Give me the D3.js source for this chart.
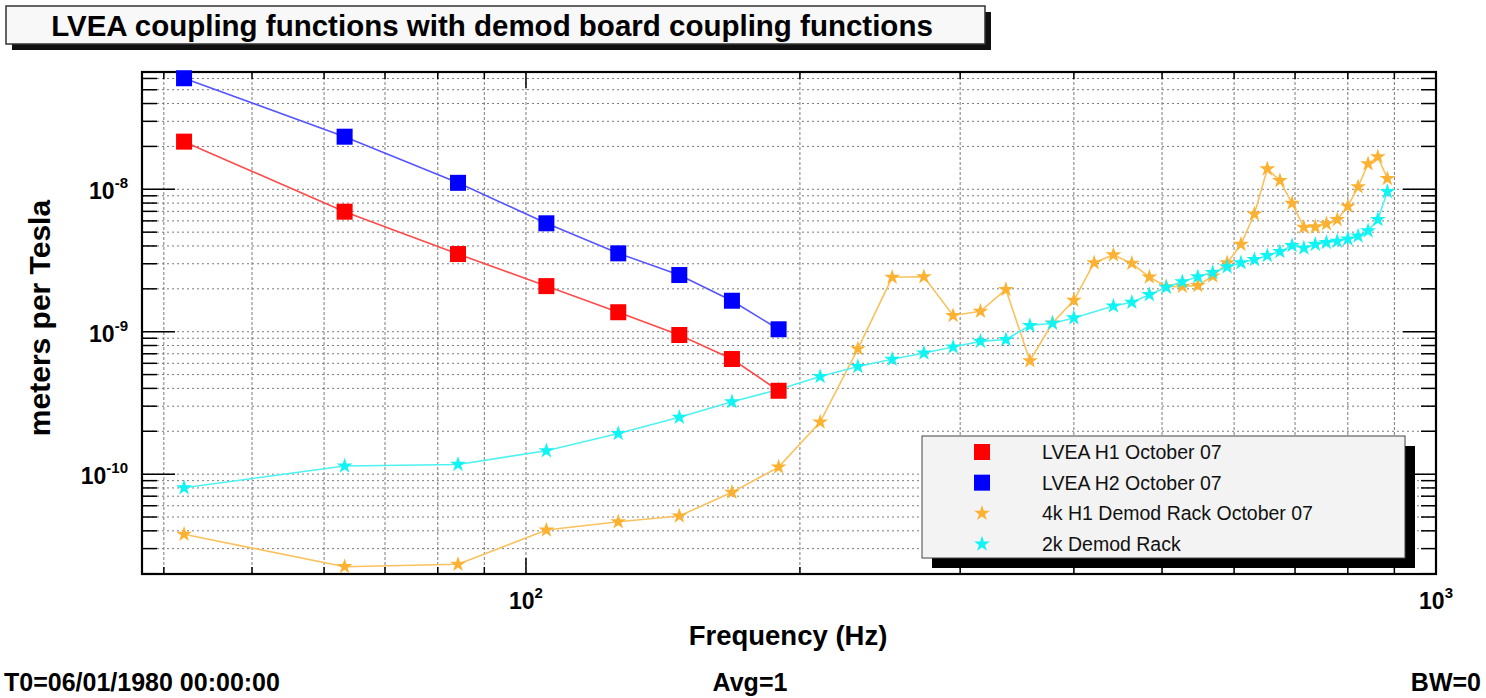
<!DOCTYPE html>
<html>
<head>
<meta charset="utf-8">
<script src="https://cdn.jsdelivr.net/npm/d3@7"></script>
<style>
  html, body { margin: 0; padding: 0; background: #ffffff; }
  svg { display: block; font-family: "Liberation Sans", Arial, Helvetica, sans-serif; }
</style>
</head>
<body>
<svg id="chart" width="1486" height="698"></svg>
<script>
// ---- data ---------------------------------------------------------------
// LVEA coupling measurements (Hz, meters per Tesla)
const lveaFreqs = [42.1, 63.2, 84.2, 105.3, 126.3, 147.4, 168.4, 189.5];
const lveaH1 = [2.16e-8, 6.96e-9, 3.51e-9, 2.09e-9, 1.37e-9, 9.48e-10, 6.43e-10, 3.85e-10];
const lveaH2 = [6.02e-8, 2.34e-8, 1.11e-8, 5.77e-9, 3.55e-9, 2.50e-9, 1.65e-9, 1.04e-9];

// 4k H1 demod rack
const rack4kFreqs = [42.1, 63.2, 84.2, 105.3, 126.3, 147.4, 168.4, 189.5, 210.5, 231.6,
  252.6, 273.7, 294.7, 315.8, 336.8, 357.9, 378.9, 400.0, 421.1, 442.1,
  463.2, 484.2, 505.3, 526.3, 547.4, 568.4, 589.5, 610.5, 631.6, 652.6,
  673.7, 694.7, 715.8, 736.8, 757.9, 778.9, 800.0, 821.1, 842.1, 863.2, 884.2];
const rack4k = [3.78e-11, 2.24e-11, 2.33e-11, 4.05e-11, 4.63e-11, 5.08e-11, 7.45e-11, 1.12e-10, 2.32e-10, 7.58e-10,
  2.41e-9, 2.43e-9, 1.30e-9, 1.39e-9, 1.98e-9, 6.25e-10, 1.15e-9, 1.66e-9, 3.05e-9, 3.46e-9,
  3.02e-9, 2.42e-9, 2.07e-9, 2.08e-9, 2.11e-9, 2.46e-9, 3.04e-9, 4.10e-9, 6.71e-9, 1.39e-8,
  1.15e-8, 7.97e-9, 5.41e-9, 5.44e-9, 5.73e-9, 6.12e-9, 7.60e-9, 1.04e-8, 1.51e-8, 1.69e-8, 1.19e-8];

// 2k demod rack
const rack2kFreqs = [42.1, 63.2, 84.2, 105.3, 126.3, 147.4, 168.4, 189.5, 210.5, 231.6,
  252.6, 273.7, 294.7, 315.8, 336.8, 357.9, 378.9, 400.0, 442.1,
  463.2, 484.2, 505.3, 526.3, 547.4, 568.4, 589.5, 610.5, 631.6, 652.6,
  673.7, 694.7, 715.8, 736.8, 757.9, 778.9, 800.0, 821.1, 842.1, 863.2, 884.2];
const rack2k = [8.03e-11, 1.14e-10, 1.17e-10, 1.46e-10, 1.93e-10, 2.51e-10, 3.22e-10, 3.93e-10, 4.85e-10, 5.70e-10,
  6.41e-10, 7.09e-10, 7.81e-10, 8.55e-10, 8.81e-10, 1.105e-9, 1.146e-9, 1.25e-9, 1.515e-9,
  1.61e-9, 1.82e-9, 2.05e-9, 2.24e-9, 2.43e-9, 2.60e-9, 2.85e-9, 3.05e-9, 3.21e-9, 3.43e-9,
  3.65e-9, 4.03e-9, 3.87e-9, 4.10e-9, 4.23e-9, 4.32e-9, 4.48e-9, 4.70e-9, 5.10e-9, 6.14e-9, 9.62e-9];

const xDecades = [2, 3];          // labelled powers of ten on the frequency axis
const yDecades = [-8, -9, -10];   // labelled powers of ten on the coupling axis

const seriesNames = ["LVEA H1 October 07", "LVEA H2 October 07", "4k H1 Demod Rack October 07", "2k Demod Rack"];

// ---- layout -------------------------------------------------------------
const frame = { left: 142, top: 72, right: 1436, bottom: 574 };
const svg = d3.select("#chart");

const x = d3.scaleLog().domain([37.85, 1000]).range([frame.left, frame.right]);
const y = d3.scaleLog().domain([1.99e-11, 6.66e-8]).range([frame.bottom, frame.top]);

// tick positions k * 10^n inside the domain
function logTicks(scale) {
  const [a, b] = scale.domain();
  const out = [];
  for (let e = Math.floor(Math.log10(a)); e <= Math.ceil(Math.log10(b)); e++) {
    for (let k = 1; k <= 9; k++) {
      const v = k * Math.pow(10, e);
      if (v >= a * 0.9999 && v <= b * 1.0001) out.push({ v, major: k === 1 });
    }
  }
  return out;
}
const xTicks = logTicks(x);
const yTicks = logTicks(y);

// ---- title box ----------------------------------------------------------
const title = svg.append("g");
title.append("rect").attr("x", 12).attr("y", 12).attr("width", 979).attr("height", 38).attr("fill", "#111");
title.append("rect").attr("x", 6).attr("y", 6).attr("width", 979).attr("height", 38)
  .attr("fill", "#f8f8f8").attr("stroke", "#333").attr("stroke-width", 1.5);
title.append("text").attr("x", 492).attr("y", 36).attr("text-anchor", "middle")
  .attr("font-size", 29.5).attr("font-weight", "bold").attr("fill", "#000")
  .text("LVEA coupling functions with demod board coupling functions");

// ---- grid ---------------------------------------------------------------
const grid = svg.append("g").attr("stroke", "#7a7a7a").attr("stroke-width", 1);
grid.selectAll("line.vx").data(xTicks).join("line")
  .attr("x1", d => x(d.v)).attr("x2", d => x(d.v))
  .attr("y1", frame.top).attr("y2", frame.bottom)
  .attr("stroke-dasharray", "3,2");
grid.selectAll("line.hy").data(yTicks).join("line")
  .attr("x1", frame.left).attr("x2", frame.right)
  .attr("y1", d => y(d.v)).attr("y2", d => y(d.v))
  .attr("stroke-dasharray", "2,3");

// ---- ticks on all four sides --------------------------------------------
const ticks = svg.append("g").attr("stroke", "#000").attr("stroke-width", 1.5);
xTicks.forEach(t => {
  const px = x(t.v), len = t.major ? 16 : 7;
  ticks.append("line").attr("x1", px).attr("x2", px).attr("y1", frame.bottom).attr("y2", frame.bottom - len);
  ticks.append("line").attr("x1", px).attr("x2", px).attr("y1", frame.top).attr("y2", frame.top + len);
});
yTicks.forEach(t => {
  const py = y(t.v), len = t.major ? 33 : 15;
  ticks.append("line").attr("x1", frame.left).attr("x2", frame.left + len).attr("y1", py).attr("y2", py);
  ticks.append("line").attr("x1", frame.right).attr("x2", frame.right - len).attr("y1", py).attr("y2", py);
});

// ---- frame --------------------------------------------------------------
svg.append("rect").attr("x", frame.left).attr("y", frame.top)
  .attr("width", frame.right - frame.left).attr("height", frame.bottom - frame.top)
  .attr("fill", "none").attr("stroke", "#000").attr("stroke-width", 2.2);

// ---- tick labels --------------------------------------------------------
const xl = svg.append("g");
xDecades.forEach(p => {
  const t = xl.append("text").attr("x", x(Math.pow(10, p))).attr("y", 609)
    .attr("text-anchor", "middle").attr("font-weight", "bold").attr("font-size", 23).attr("fill", "#000");
  t.append("tspan").text("10");
  t.append("tspan").attr("dy", -11).attr("font-size", 15).text(String(p));
});
const yl = svg.append("g");
yDecades.forEach(p => {
  const t = yl.append("text").attr("x", 128).attr("y", y(Math.pow(10, p)) + 10)
    .attr("text-anchor", "end").attr("font-weight", "bold").attr("font-size", 23).attr("fill", "#000");
  t.append("tspan").text("10");
  t.append("tspan").attr("dy", -11).attr("font-size", 15).text(String(p));
});

// ---- axis titles --------------------------------------------------------
svg.append("text").attr("x", 788).attr("y", 645).attr("text-anchor", "middle")
  .attr("font-weight", "bold").attr("font-size", 27.5).text("Frequency (Hz)");
svg.append("text").attr("transform", "translate(50,318) rotate(-90)").attr("text-anchor", "middle")
  .attr("font-weight", "bold").attr("font-size", 30).text("meters per Tesla");

// ---- footer -------------------------------------------------------------
const foot = svg.append("g").attr("font-weight", "bold").attr("font-size", 25).attr("fill", "#000");
foot.append("text").attr("x", 4).attr("y", 691).text("T0=06/01/1980 00:00:00");
foot.append("text").attr("x", 750).attr("y", 691).attr("text-anchor", "middle").text("Avg=1");
foot.append("text").attr("x", 1481).attr("y", 691).attr("text-anchor", "end").text("BW=0");

// ---- series -------------------------------------------------------------
const series = [
  { name: seriesNames[0], fx: lveaFreqs, vy: lveaH1, line: "#ff4a4a", fill: "#ff0000", shape: "square" },
  { name: seriesNames[1], fx: lveaFreqs, vy: lveaH2, line: "#5555ff", fill: "#0000ff", shape: "square" },
  { name: seriesNames[2], fx: rack4kFreqs, vy: rack4k, line: "#f9c25e", fill: "#fbb233", shape: "star" },
  { name: seriesNames[3], fx: rack2kFreqs, vy: rack2k, line: "#4ff2f2", fill: "#11f4f4", shape: "star" }
];

const lineGen = d3.line().x(d => x(d[0])).y(d => y(d[1]));
const star = d3.symbol().type(d3.symbolStar).size(78);
const squareSize = 16;

function drawMarker(g, shape, cx, cy, fill) {
  if (shape === "square") {
    g.append("rect").attr("x", cx - squareSize / 2).attr("y", cy - squareSize / 2)
      .attr("width", squareSize).attr("height", squareSize).attr("fill", fill);
  } else {
    g.append("path").attr("d", star()).attr("transform", `translate(${cx},${cy})`).attr("fill", fill);
  }
}

// draw lower series first so the squares sit on top
[series[2], series[3], series[0], series[1]].forEach(s => {
  const pts = s.fx.map((f, i) => [f, s.vy[i]]);
  const g = svg.append("g");
  g.append("path").attr("d", lineGen(pts)).attr("fill", "none")
    .attr("stroke", s.line).attr("stroke-width", 1.6);
  pts.forEach(p => drawMarker(g, s.shape, x(p[0]), y(p[1]), s.fill));
});

// ---- legend -------------------------------------------------------------
const leg = svg.append("g");
const lg = { x: 922, y: 436, w: 483, h: 122 };
leg.append("rect").attr("x", lg.x + 10).attr("y", lg.y + 10).attr("width", lg.w).attr("height", lg.h).attr("fill", "#000");
leg.append("rect").attr("x", lg.x).attr("y", lg.y).attr("width", lg.w).attr("height", lg.h)
  .attr("fill", "#f3f3f3").attr("stroke", "#444").attr("stroke-width", 1);
const rowY = d3.scalePoint().domain(seriesNames).range([452, 544]);
series.forEach(s => {
  const cy = rowY(s.name);
  drawMarker(leg, s.shape, 982, cy, s.fill);
  leg.append("text").attr("x", 1042).attr("y", cy + 7).attr("font-size", 19.5).attr("fill", "#111").text(s.name);
});
</script>
</body>
</html>
